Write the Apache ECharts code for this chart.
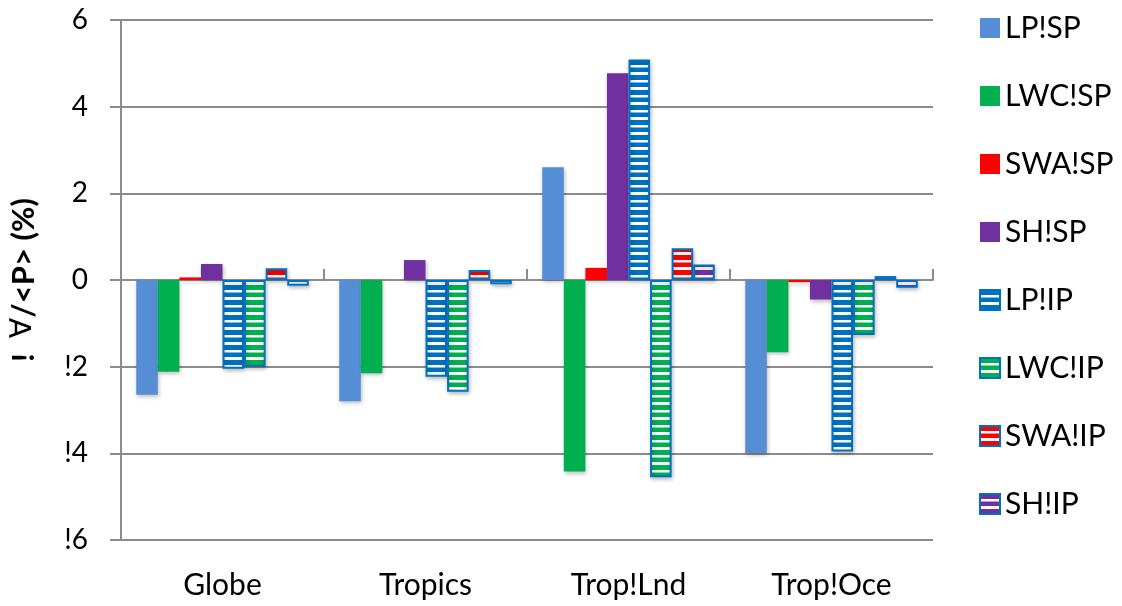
<!DOCTYPE html>
<html>
<head>
<meta charset="utf-8">
<script src="https://cdn.jsdelivr.net/npm/echarts@6/dist/echarts.min.js"></script>
<style>html,body{margin:0;padding:0;background:#fff}#c{width:1122px;height:606px}</style>
</head>
<body>
<div id="c"></div>
<script>
const categories = ['Globe', 'Tropics', 'Trop!Lnd', 'Trop!Oce'];
const seriesNames = ['LP!SP', 'LWC!SP', 'SWA!SP', 'SH!SP', 'LP!IP', 'LWC!IP', 'SWA!IP', 'SH!IP'];
const LP_SP  = [-2.65, -2.80,  2.60, -3.99];
const LWC_SP = [-2.12, -2.15, -4.42, -1.67];
const SWA_SP = [ 0.06,  0.00,  0.28, -0.05];
const SH_SP  = [ 0.37,  0.46,  4.77, -0.45];
const LP_IP  = [-2.05, -2.23,  5.09, -3.96];
const LWC_IP = [-2.00, -2.58, -4.55, -1.27];
const SWA_IP = [ 0.27,  0.23,  0.73,  0.09];
const SH_IP  = [-0.13, -0.10,  0.36, -0.18];
const yTickLabels = {'6':'6','4':'4','2':'2','0':'0','-2':'!2','-4':'!4','-6':'!6'};

const allData = [LP_SP, LWC_SP, SWA_SP, SH_SP, LP_IP, LWC_IP, SWA_IP, SH_IP];
const colors = ['#558ED5', '#00B050', '#FF0000', '#7030A0', '#0070C0', '#00B050', '#FF0000', '#7030A0'];
const FONT = 'Lato';

function stripe(color) {
  const c = document.createElement('canvas');
  c.width = 8; c.height = 15;
  const g = c.getContext('2d');
  g.fillStyle = '#ffffff'; g.fillRect(0, 0, 8, 15);
  g.fillStyle = color;
  g.fillRect(0, 0, 8, 5);
  g.fillRect(0, 7.5, 8, 4.5);
  return {image: c, repeat: 'repeat'};
}

const series = seriesNames.map((name, i) => {
  const patterned = i >= 4;
  return {
    name: name,
    type: 'bar',
    xAxisIndex: 0,
    data: allData[i],
    barGap: '0%',
    barCategoryGap: '15%',
    itemStyle: patterned ? {
      color: stripe(colors[i]),
      borderColor: '#0070C0',
      borderWidth: 2,
      shadowColor: 'rgba(0,0,0,0.25)', shadowBlur: 4, shadowOffsetX: 1, shadowOffsetY: 2
    } : {
      color: colors[i],
      shadowColor: 'rgba(0,0,0,0.25)', shadowBlur: 4, shadowOffsetX: 1, shadowOffsetY: 2
    }
  };
});

const chart = echarts.init(document.getElementById('c'));
chart.setOption({
  animation: false,
  grid: {left: 116, right: 189, top: 20, bottom: 66, containLabel: false},
  legend: {
    orient: 'vertical',
    left: 974, top: 7,
    itemWidth: 20, itemHeight: 20,
    itemGap: 36,
    icon: 'rect',
    textStyle: {fontFamily: FONT, fontSize: 30, lineHeight: 32, color: '#000'},
    data: seriesNames
  },
  xAxis: [{
    type: 'category',
    data: categories,
    position: 'bottom',
    axisLine: {show: false, onZero: false},
    axisTick: {show: false},
    axisLabel: {fontFamily: FONT, fontSize: 30, color: '#000', margin: 30}
  }, {
    type: 'category',
    data: categories,
    axisLine: {show: true, onZero: true, lineStyle: {color: '#8c8c8c', width: 2}},
    axisTick: {show: true, length: 11, lineStyle: {color: '#8c8c8c', width: 2}},
    axisLabel: {show: false}
  }],
  yAxis: {
    type: 'value',
    min: -6, max: 6, interval: 2,
    name: '{b|!  }{s|∀}{b|/<P> (%)}',
    nameLocation: 'middle',
    nameGap: 82,
    nameRotate: 90,
    nameTextStyle: {
      fontFamily: FONT, fontSize: 31, fontWeight: 'bold', color: '#000',
      rich: {
        b: {fontFamily: FONT, fontSize: 31, fontWeight: 'bold', color: '#000'},
        s: {fontFamily: 'DejaVu Sans', fontSize: 30, fontWeight: 'normal', color: '#000'}
      }
    },
    axisLine: {show: true, lineStyle: {color: '#8c8c8c', width: 2}},
    axisTick: {show: true, length: 11, lineStyle: {color: '#8c8c8c', width: 2}},
    splitLine: {show: true, lineStyle: {color: '#8c8c8c', width: 2}},
    axisLabel: {
      fontFamily: FONT, fontSize: 28, color: '#000', margin: 33,
      formatter: v => yTickLabels[String(v)]
    }
  },
  series: series
});
</script>
</body>
</html>
